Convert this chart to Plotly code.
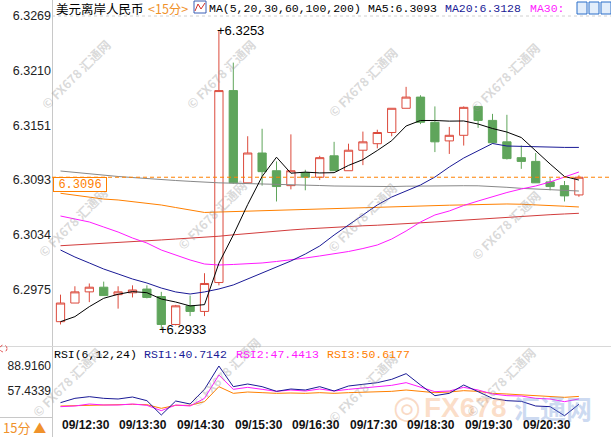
import plotly.graph_objects as go
import numpy as np

W, H = 611, 437

# ---------------- data ----------------
open_ = [6.2941, 6.2961, 6.2973, 6.2978, 6.2970, 6.2972, 6.2976, 6.2968, 6.2938, 6.2958,
         6.2952, 6.2983, 6.3189, 6.3090, 6.3122, 6.3103, 6.3087, 6.3101, 6.3096, 6.3119,
         6.3103, 6.3125, 6.3132, 6.3144, 6.3170, 6.3182, 6.3155, 6.3135, 6.3141, 6.3172,
         6.3157, 6.3134, 6.3117, 6.3113, 6.3091, 6.3087, 6.3077]
high = [6.2970, 6.2979, 6.2982, 6.2984, 6.2979, 6.2980, 6.2980, 6.2973, 6.2959, 6.2969,
        6.2993, 6.3253, 6.3219, 6.3140, 6.3148, 6.3113, 6.3142, 6.3104, 6.3119, 6.3134,
        6.3132, 6.3145, 6.3147, 6.3170, 6.3193, 6.3184, 6.3172, 6.3150, 6.3172, 6.3172,
        6.3164, 6.3163, 6.3130, 6.3122, 6.3095, 6.3092, 6.3098]
low = [6.2938, 6.2961, 6.2962, 6.2969, 6.2955, 6.2967, 6.2966, 6.2933, 6.2937, 6.2947,
       6.2947, 6.2980, 6.3089, 6.3090, 6.3087, 6.3070, 6.3083, 6.3082, 6.3093, 6.3103,
       6.3103, 6.3109, 6.3127, 6.3140, 6.3170, 6.3153, 6.3123, 6.3121, 6.3130, 6.3149,
       6.3132, 6.3115, 6.3105, 6.3090, 6.3082, 6.3070, 6.3075]
close = [6.2961, 6.2973, 6.2978, 6.2969, 6.2973, 6.2975, 6.2967, 6.2938, 6.2958, 6.2952,
         6.2982, 6.3189, 6.3090, 6.3122, 6.3102, 6.3086, 6.3103, 6.3096, 6.3117, 6.3103,
         6.3125, 6.3134, 6.3144, 6.3170, 6.3182, 6.3155, 6.3134, 6.3141, 6.3171, 6.3157,
         6.3133, 6.3116, 6.3113, 6.3090, 6.3086, 6.3076, 6.3096]

ma5 = [6.29410, 6.29464, 6.29571, 6.29661, 6.29704, 6.29733, 6.29721, 6.29653, 6.29621, 6.29579,
       6.29593, 6.30037, 6.30340, 6.30667, 6.30968, 6.31175, 6.31003, 6.31015, 6.31006, 6.31009,
       6.31087, 6.31149, 6.31247, 6.31352, 6.31510, 6.31569, 6.31569, 6.31562, 6.31564, 6.31531,
       6.31483, 6.31445, 6.31386, 6.31241, 6.31102, 6.30968, 6.3093]
ma20 = [6.30179, 6.30104, 6.30040, 6.29975, 6.29922, 6.29868, 6.29825, 6.29771, 6.29729, 6.29707,
        6.29729, 6.29761, 6.29804, 6.29868, 6.29932, 6.29997, 6.30061, 6.30136, 6.30222, 6.30340,
        6.30447, 6.30555, 6.30662, 6.30748, 6.30812, 6.30877, 6.30962, 6.31070, 6.31166, 6.31241,
        6.31322, 6.31295, 6.31290, 6.31284, 6.31280, 6.31280, 6.3128]
ma30 = [6.30544, 6.30512, 6.30480, 6.30426, 6.30372, 6.30308, 6.30254, 6.30179, 6.30126, 6.30072,
        6.30029, 6.30018, 6.30024, 6.30029, 6.30040, 6.30056, 6.30072, 6.30093, 6.30115, 6.30136,
        6.30163, 6.30195, 6.30233, 6.30297, 6.30383, 6.30480, 6.30555, 6.30598, 6.30657, 6.30705,
        6.30753, 6.30796, 6.30834, 6.30866, 6.30909, 6.30962, 6.31016]
ma60 = [6.30788, 6.30769, 6.30748, 6.30726, 6.30716, 6.30700, 6.30686, 6.30662, 6.30635, 6.30608,
        6.30582, 6.30587, 6.30592, 6.30596, 6.30599, 6.30602, 6.30606, 6.30612, 6.30617, 6.30625,
        6.30628, 6.30632, 6.30637, 6.30644, 6.30648, 6.30651, 6.30656, 6.30660, 6.30663, 6.30668,
        6.30672, 6.30673, 6.30670, 6.30665, 6.30659, 6.30649, 6.30641]
ma100 = [6.30225, 6.30233, 6.30240, 6.30249, 6.30258, 6.30267, 6.30276, 6.30287, 6.30297, 6.30305,
         6.30313, 6.30327, 6.30342, 6.30357, 6.30372, 6.30383, 6.30394, 6.30405, 6.30415, 6.30426,
         6.30432, 6.30439, 6.30445, 6.30456, 6.30464, 6.30471, 6.30480, 6.30490, 6.30501, 6.30510,
         6.30523, 6.30535, 6.30544, 6.30550, 6.30558, 6.30566, 6.30573]
ma200 = [6.31027, 6.31011, 6.30995, 6.30979, 6.30968, 6.30957, 6.30949, 6.30938, 6.30925, 6.30916,
         6.30906, 6.30900, 6.30896, 6.30893, 6.30888, 6.30884, 6.30880, 6.30876, 6.30871, 6.30866,
         6.30863, 6.30860, 6.30858, 6.30860, 6.30864, 6.30867, 6.30869, 6.30869, 6.30869, 6.30868,
         6.30863, 6.30852, 6.30841, 6.30834, 6.30826, 6.30819, 6.30812]

rsi1 = [42.73, 48.19, 50.29, 48.19, 47.35, 49.87, 45.25, 27.20, 44.83, 41.05,
        59.53, 88.916, 62.88, 66.24, 62.88, 57.01, 59.95, 58.69, 62.88, 57.43,
        63.72, 66.24, 67.92, 72.12, 79.26, 64.98, 51.55, 54.49, 64.98, 56.59,
        48.19, 45.25, 44.41, 38.54, 37.70, 26.30, 40.7142]
rsi2 = [37.70, 38.54, 41.05, 39.79, 39.79, 41.05, 39.38, 32.66, 39.79, 38.54,
        48.19, 77.58, 59.53, 62.04, 59.53, 57.01, 58.69, 57.43, 59.95, 57.43,
        59.53, 61.20, 62.04, 64.56, 67.92, 62.04, 56.59, 57.43, 62.04, 58.69,
        53.65, 51.55, 51.13, 48.19, 47.35, 43.99, 47.4413]
rsi3 = [38.54, 38.96, 39.79, 39.79, 40.21, 40.63, 40.21, 35.60, 39.38, 39.38,
        43.99, 62.88, 54.49, 56.17, 55.33, 54.49, 54.91, 54.49, 55.33, 54.49,
        55.33, 55.75, 56.17, 57.01, 58.69, 57.43, 55.33, 56.17, 57.85, 57.01,
        54.49, 53.65, 52.81, 51.97, 51.13, 49.45, 50.6177]

time_labels = ["09/12:30", "09/13:30", "09/14:30", "09/15:30", "09/16:30",
               "09/17:30", "09/18:30", "09/19:30", "09/20:30"]
price_ticks = [6.3269, 6.3210, 6.3151, 6.3093, 6.3034, 6.2975]
rsi_ticks = [88.9160, 57.4339]
rsi_range = [24.69, 114.1]
price_range = [6.29149, 6.32862]

# ---------------- styling ----------------
RED = "#dc4a3c"
GREEN = "#5fa55b"
NAVY = "#1a1a96"
MAGENTA = "#ff1aff"
ORANGE = "#ff8000"
GRAY = "#888888"
MONO = "Liberation Mono, Noto Sans CJK SC, monospace"
SANS = "Liberation Sans, Arial, sans-serif"

x = np.arange(len(close))
x_left_px, x_right_px = 52, 611
first_px, step_px = 60.5, 14.4
xr = [(x_left_px - first_px) / step_px, (x_right_px - first_px) / step_px]
tick_x = [1.75 + 4 * k for k in range(len(time_labels))]


def py(p):  # pixel row -> paper y
    return 1 - p / H


def px(p):  # pixel column -> paper x
    return p / W


fig = go.Figure()
fig.add_trace(go.Candlestick(
    x=x, open=open_, high=high, low=low, close=close,
    increasing=dict(line=dict(color=RED, width=1), fillcolor="white"),
    decreasing=dict(line=dict(color=GREEN, width=1), fillcolor=GREEN),
    whiskerwidth=0, xaxis="x", yaxis="y", showlegend=False, hoverinfo="skip"))

for arr, col in [(ma200, GRAY), (ma60, ORANGE), (ma100, "#d23c3c"),
                 (ma30, MAGENTA), (ma20, NAVY), (ma5, "#000000")]:
    fig.add_trace(go.Scatter(x=x, y=arr, mode="lines", line=dict(color=col, width=1),
                             xaxis="x", yaxis="y", showlegend=False, hoverinfo="skip"))

for arr, col in [(rsi3, ORANGE), (rsi2, MAGENTA), (rsi1, NAVY)]:
    fig.add_trace(go.Scatter(x=x, y=arr, mode="lines", line=dict(color=col, width=1),
                             xaxis="x2", yaxis="y2", showlegend=False, hoverinfo="skip"))

main_dom = [py(346), 1]
rsi_dom = [py(417), py(346)]

fig.update_layout(
    width=W, height=H, margin=dict(l=0, r=0, t=0, b=0),
    paper_bgcolor="white", plot_bgcolor="white", showlegend=False, boxgap=0.18,
    xaxis=dict(domain=[px(x_left_px), 1], range=xr, showticklabels=False, showgrid=False,
               zeroline=False, showline=False, rangeslider=dict(visible=False), anchor="y"),
    yaxis=dict(domain=main_dom, range=price_range, tickvals=price_ticks,
               ticktext=[f"{v:.4f}" for v in price_ticks], ticks="", showgrid=False,
               zeroline=False, showline=False, anchor="x",
               tickfont=dict(family=SANS, size=12.5, color="#222222")),
    xaxis2=dict(domain=[px(x_left_px), 1], range=xr, anchor="y2", showticklabels=False,
                ticks="", showgrid=False, zeroline=False, showline=False),
    yaxis2=dict(domain=rsi_dom, range=rsi_range, tickvals=rsi_ticks,
                ticktext=[f"{v:.4f}" for v in rsi_ticks], ticks="", showgrid=False,
                zeroline=False, showline=False, anchor="x2",
                tickfont=dict(family=SANS, size=12, color="#222222")),
)

shapes = []
shapes.append(dict(type="line", xref="paper", yref="paper", x0=px(52.5), x1=px(52.5),
                   y0=0, y1=1, line=dict(color="#c8c8c8", width=1)))
shapes.append(dict(type="line", xref="paper", yref="paper", x0=0, x1=1,
                   y0=py(346.5), y1=py(346.5), line=dict(color="#d8d8d8", width=1)))
shapes.append(dict(type="line", xref="paper", yref="y", x0=px(52), x1=1,
                   y0=price_ticks[0], y1=price_ticks[0],
                   line=dict(color="#d0d0d0", width=1, dash="3px,3px")))
shapes.append(dict(type="line", xref="paper", yref="y", x0=px(52), x1=1,
                   y0=close[-1], y1=close[-1],
                   line=dict(color=ORANGE, width=1, dash="4px,3px")))
shapes.append(dict(type="line", xref="paper", yref="paper", x0=0, x1=px(52.5),
                   y0=py(417.5), y1=py(417.5), line=dict(color="#c8c8c8", width=1)))
shapes.append(dict(type="rect", xref="paper", yref="paper", x0=px(194), x1=px(206),
                   y0=py(13), y1=py(1), line=dict(color="#3b5fb5", width=1), fillcolor="white"))
shapes.append(dict(type="path", xref="paper", yref="paper",
                   path=f"M {px(195)} {py(11)} L {px(198)} {py(4)} L {px(201)} {py(9)} L {px(205)} {py(3)}",
                   line=dict(color="#d0302a", width=1)))
for x0 in [577, 589, 601]:
    shapes.append(dict(type="rect", xref="paper", yref="paper", x0=px(x0), x1=px(x0 + 10),
                       y0=py(14), y1=py(2), line=dict(color="#2a6fc9", width=1),
                       fillcolor="#e3eefb"))
shapes.append(dict(type="circle", xref="paper", yref="paper", x0=px(0), x1=px(7),
                   y0=py(352), y1=py(345), line=dict(color="#e05050", width=1, dash="dot")))
fig.update_layout(shapes=shapes)

ann = []


def text(xp, yp, s, color="#000000", size=12, family=MONO, xanchor="left", yanchor="middle",
         **kw):
    ann.append(dict(xref="paper", yref="paper", x=px(xp), y=py(yp), text=s, showarrow=False,
                    xanchor=xanchor, yanchor=yanchor,
                    font=dict(color=color, size=size, family=family), **kw))


# faint watermarks
wm_pos = [(75, 74), (220, 74), (362, 82), (505, 78),
          (72, 222), (212, 214), (362, 218), (505, 225),
          (66, 382), (225, 372), (362, 388), (500, 382)]
for (wx, wy) in wm_pos:
    ann.append(dict(xref="paper", yref="paper", x=px(wx), y=py(wy), text="© FX678 汇通网",
                    showarrow=False, textangle=-45, xanchor="center", yanchor="middle",
                    font=dict(color="rgba(150,150,150,0.36)", size=12.5,
                              family="Noto Sans CJK SC", weight="bold")))
ann.append(dict(xref="paper", yref="paper", x=px(407), y=py(407), text="◎", showarrow=False,
                xanchor="center", yanchor="middle",
                font=dict(color="rgba(240,150,90,0.35)", size=32, family="DejaVu Sans")))
ann.append(dict(xref="paper", yref="paper", x=px(466), y=py(407), text="FX678", showarrow=False,
                xanchor="center", yanchor="middle",
                font=dict(color="rgba(245,160,100,0.35)", size=28, family=SANS, weight="bold")))
ann.append(dict(xref="paper", yref="paper", x=px(553), y=py(407), text="汇通网", showarrow=False,
                xanchor="center", yanchor="middle",
                font=dict(color="rgba(110,150,215,0.35)", size=26,
                          family="Noto Sans CJK SC", weight="bold")))

for tx, lab in zip(tick_x, time_labels):
    ann.append(dict(xref="x2", yref="paper", x=tx, y=py(425), text=lab, showarrow=False,
                    xanchor="center", yanchor="middle",
                    font=dict(color="#111111", size=12, family=SANS, weight="bold")))

# title row
text(54, 8, "美元离岸人民币", size=12.5, family="Noto Sans CJK SC")
text(146, 8, "&lt;15分&gt;", color="#f0922b", size=12.5, family="Noto Sans CJK SC")
text(207, 8, "MA(5,20,30,60,100,200)", size=11.5)
text(366, 8, f"MA5:{ma5[-1]:.4f}", size=11.5)
text(443, 8, f"MA20:{ma20[-1]:.4f}", color=NAVY, size=11.5)
text(528, 8, "MA30:", color=MAGENTA, size=11.5)

# RSI legend
text(52, 354, "RSI(6,12,24)", size=11.5)
text(142, 354, f"RSI1:{rsi1[-1]:.4f}", color=NAVY, size=11.5)
text(234, 354, f"RSI2:{rsi2[-1]:.4f}", color=MAGENTA, size=11.5)
text(325, 354, f"RSI3:{rsi3[-1]:.4f}", color=ORANGE, size=11.5)

text(1, 427, "15分 ▲", color="#f0922b", size=13, family="Noto Sans CJK SC")

ann.append(dict(xref="paper", yref="y", x=px(53), y=close[-1], yanchor="top", xanchor="left",
                text=f"{close[-1]:.4f}", showarrow=False, bgcolor="white",
                bordercolor=ORANGE, borderwidth=1, borderpad=1, width=50, height=11,
                font=dict(color=ORANGE, size=12, family=MONO)))

ih = int(np.argmax(high))
il = int(np.argmin(low))
ann.append(dict(xref="x", yref="y", x=ih, y=high[ih], text=f"+{high[ih]:.4f}", showarrow=False,
                xanchor="left", yanchor="middle", xshift=-4,
                font=dict(color="#000000", size=13, family=SANS)))
ann.append(dict(xref="x", yref="y", x=il, y=low[il], text=f"+{low[il]:.4f}", showarrow=False,
                xanchor="left", yanchor="middle", xshift=-4,
                font=dict(color="#000000", size=13, family=SANS)))

fig.update_layout(annotations=ann)
fig.write_html("out.html", config={"displayModeBar": False},
               post_script="document.body.style.margin='0';document.body.style.overflow='hidden';")
